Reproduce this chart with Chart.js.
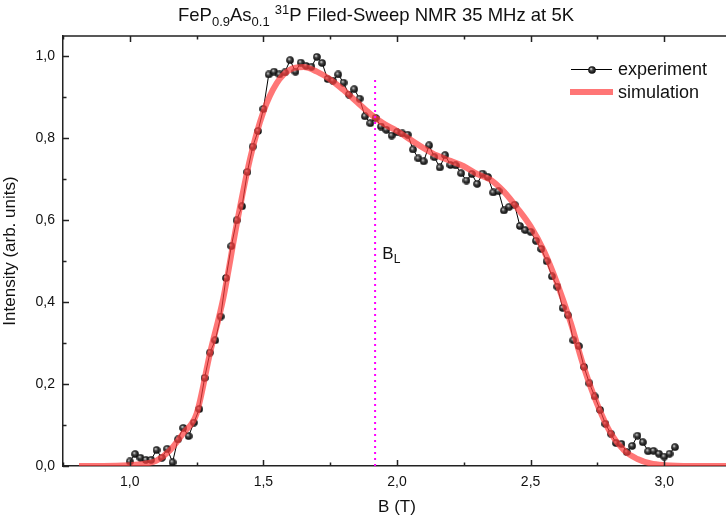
<!DOCTYPE html>
<html>
<head>
<meta charset="utf-8">
<script src="https://cdn.jsdelivr.net/npm/chart.js@4.4.0/dist/chart.umd.min.js"></script>
<style>
  html, body { margin: 0; padding: 0; background: #fff; overflow: hidden; }
  #wrap { width: 726px; height: 520px; overflow: hidden; }
</style>
</head>
<body>
<div id="wrap"><canvas id="nmrChart" width="736" height="520"></canvas></div>
<script>
// measured field-sweep spectrum (B in tesla)
const fieldExp = [
  1.00, 1.02, 1.04, 1.06, 1.08, 1.10, 1.12, 1.14, 1.16, 1.18,
  1.20, 1.22, 1.24, 1.26, 1.28, 1.30, 1.32, 1.34, 1.36, 1.38,
  1.40, 1.42, 1.44, 1.46, 1.48, 1.50, 1.52, 1.54, 1.56, 1.58,
  1.60, 1.62, 1.64, 1.66, 1.68, 1.70, 1.72, 1.74, 1.76, 1.78,
  1.80, 1.82, 1.84, 1.86, 1.88, 1.90, 1.92, 1.94, 1.96, 1.98,
  2.00, 2.02, 2.04, 2.06, 2.08, 2.10, 2.12, 2.14, 2.16, 2.18,
  2.20, 2.22, 2.24, 2.26, 2.28, 2.30, 2.32, 2.34, 2.36, 2.38,
  2.40, 2.42, 2.44, 2.46, 2.48, 2.50, 2.52, 2.54, 2.56, 2.58,
  2.60, 2.62, 2.64, 2.66, 2.68, 2.70, 2.72, 2.74, 2.76, 2.78,
  2.80, 2.82, 2.84, 2.86, 2.88, 2.90, 2.92, 2.94, 2.96, 2.98,
  3.00, 3.02, 3.04
];
const intensityExp = [
  0.011, 0.029, 0.020, 0.015, 0.015, 0.039, 0.020, 0.042, 0.009, 0.065,
  0.093, 0.073, 0.106, 0.139, 0.215, 0.277, 0.307, 0.365, 0.459, 0.537,
  0.600, 0.634, 0.718, 0.780, 0.818, 0.872, 0.956, 0.963, 0.956, 0.961,
  0.991, 0.963, 0.985, 0.977, 0.975, 0.999, 0.984, 0.945, 0.941, 0.956,
  0.936, 0.907, 0.920, 0.897, 0.854, 0.837, 0.850, 0.829, 0.821, 0.807,
  0.815, 0.812, 0.809, 0.773, 0.751, 0.744, 0.783, 0.754, 0.729, 0.759,
  0.735, 0.734, 0.715, 0.697, 0.713, 0.689, 0.714, 0.706, 0.668, 0.671,
  0.624, 0.633, 0.638, 0.586, 0.576, 0.572, 0.550, 0.530, 0.500, 0.463,
  0.438, 0.386, 0.368, 0.307, 0.293, 0.242, 0.202, 0.170, 0.137, 0.103,
  0.079, 0.056, 0.054, 0.034, 0.049, 0.074, 0.058, 0.036, 0.037, 0.030,
  0.023, 0.030, 0.046
];

// simulated lineshape
const fieldSim = [
  0.81, 0.90, 1.00, 1.05, 1.10, 1.15, 1.20, 1.25, 1.30, 1.35,
  1.40, 1.45, 1.50, 1.55, 1.60, 1.65, 1.70, 1.75, 1.80, 1.85,
  1.90, 1.95, 2.00, 2.05, 2.10, 2.15, 2.20, 2.25, 2.30, 2.35,
  2.40, 2.45, 2.50, 2.55, 2.60, 2.65, 2.70, 2.75, 2.80, 2.85,
  2.90, 2.95, 3.00, 3.10, 3.25
];
const intensitySim = [
  0, 0, 0.002, 0.005, 0.013, 0.038, 0.080, 0.128, 0.275, 0.410,
  0.590, 0.750, 0.865, 0.935, 0.968, 0.974, 0.963, 0.944, 0.918, 0.889,
  0.860, 0.836, 0.818, 0.797, 0.776, 0.758, 0.745, 0.732, 0.713, 0.699,
  0.670, 0.630, 0.585, 0.525, 0.445, 0.350, 0.240, 0.150, 0.080, 0.038,
  0.017, 0.006, 0.002, 0, 0
];

// Larmor field marker
const larmorField = 1.918;
const larmorTop = 0.945;

const fieldTicks = [1.0, 1.5, 2.0, 2.5, 3.0];
const fieldMinorTicks = [0.75, 1.25, 1.75, 2.25, 2.75, 3.25];
const intensityTicks = [0, 0.2, 0.4, 0.6, 0.8, 1.0];
const intensityMinorTicks = [0.1, 0.3, 0.5, 0.7, 0.9];

const FONT = '"Liberation Sans", Arial, sans-serif';
const simColor = 'rgba(255, 60, 60, 0.7)';
const axisColor = '#222';

// shaded ball marker
const ball = document.createElement('canvas');
ball.width = 8; ball.height = 8;
(function () {
  const c = ball.getContext('2d');
  const g = c.createRadialGradient(3, 2.8, 0.3, 4, 4, 4);
  g.addColorStop(0, '#d8d8d8');
  g.addColorStop(0.35, '#444');
  g.addColorStop(1, '#000');
  c.fillStyle = g;
  c.beginPath();
  c.arc(4, 4, 3.8, 0, Math.PI * 2);
  c.fill();
})();

const fmt = v => v.toFixed(1).replace('.', ',');

function drawRich(ctx, parts, x, y) {
  // parts: [text, size, dy]
  let w = 0;
  parts.forEach(p => { ctx.font = p[1] + 'px ' + FONT; w += ctx.measureText(p[0]).width; });
  let cx = x - w / 2;
  ctx.textAlign = 'left';
  ctx.textBaseline = 'alphabetic';
  parts.forEach(p => {
    ctx.font = p[1] + 'px ' + FONT;
    ctx.fillText(p[0], cx, y + p[2]);
    cx += ctx.measureText(p[0]).width;
  });
}

const decorations = {
  id: 'decorations',
  afterDraw(chart) {
    const ctx = chart.ctx;
    const a = chart.chartArea;
    const xs = chart.scales.x, ys = chart.scales.y;
    ctx.save();
    ctx.strokeStyle = axisColor;
    ctx.lineWidth = 1.5;
    // top and right frame lines
    ctx.beginPath();
    ctx.moveTo(a.left, a.top);
    ctx.lineTo(a.right, a.top);
    ctx.lineTo(a.right, a.bottom);
    ctx.stroke();
    // inward ticks
    ctx.beginPath();
    const tickX = (v, len) => {
      const px = Math.round(xs.getPixelForValue(v)) + 0.5;
      ctx.moveTo(px, a.bottom); ctx.lineTo(px, a.bottom - len);
      ctx.moveTo(px, a.top); ctx.lineTo(px, a.top + len);
    };
    const tickY = (v, len) => {
      const py = Math.round(ys.getPixelForValue(v)) + 0.5;
      ctx.moveTo(a.left, py); ctx.lineTo(a.left + len, py);
    };
    fieldTicks.forEach(v => tickX(v, 6));
    fieldMinorTicks.forEach(v => tickX(v, 3.5));
    intensityTicks.forEach(v => tickY(v, 6));
    intensityMinorTicks.forEach(v => tickY(v, 3.5));
    ctx.stroke();

    ctx.fillStyle = '#111';
    // title with sub/superscripts
    drawRich(ctx, [
      ['FeP', 18.5, 0], ['0.9', 13, 5], ['As', 18.5, 0], ['0.1', 13, 5],
      [' ', 18.5, 0], ['31', 13, -7], ['P Filed-Sweep NMR 35 MHz at 5K', 18.5, 0]
    ], 376, 21);

    // B_L label
    const bx = xs.getPixelForValue(1.945);
    const by = ys.getPixelForValue(0.505);
    ctx.textAlign = 'left';
    ctx.font = '17px ' + FONT;
    ctx.fillText('B', bx, by);
    const bw = ctx.measureText('B').width;
    ctx.font = '12px ' + FONT;
    ctx.fillText('L', bx + bw, by + 4);

    // legend
    ctx.strokeStyle = '#000';
    ctx.lineWidth = 1;
    ctx.beginPath();
    ctx.moveTo(571, 69.5); ctx.lineTo(612, 69.5);
    ctx.stroke();
    ctx.drawImage(ball, 588, 66);
    ctx.strokeStyle = simColor;
    ctx.lineWidth = 6;
    ctx.beginPath();
    ctx.moveTo(570, 92); ctx.lineTo(613, 92);
    ctx.stroke();
    ctx.fillStyle = '#111';
    ctx.font = '18px ' + FONT;
    ctx.textBaseline = 'middle';
    ctx.fillText('experiment', 618, 70);
    ctx.fillText('simulation', 618, 93);
    ctx.restore();
  }
};

new Chart(document.getElementById('nmrChart'), {
  type: 'line',
  data: {
    datasets: [
      {
        label: 'B_L',
        data: [{ x: larmorField, y: 0 }, { x: larmorField, y: larmorTop }],
        borderColor: '#ff00ff',
        borderWidth: 2,
        borderDash: [2, 4],
        pointRadius: 0,
        order: 0
      },
      {
        label: 'simulation',
        data: fieldSim.map((b, i) => ({ x: b, y: intensitySim[i] })),
        borderColor: simColor,
        borderWidth: 6,
        cubicInterpolationMode: 'monotone',
        pointRadius: 0,
        order: 1
      },
      {
        label: 'experiment',
        data: fieldExp.map((b, i) => ({ x: b, y: intensityExp[i] })),
        borderColor: '#000',
        borderWidth: 1,
        tension: 0,
        pointStyle: ball,
        pointRadius: 4,
        order: 2
      }
    ]
  },
  options: {
    responsive: false,
    animation: false,
    layout: { padding: { top: 36, right: 1, left: 0, bottom: 0 } },
    plugins: {
      legend: { display: false },
      tooltip: { enabled: false },
      title: { display: false }
    },
    scales: {
      x: {
        type: 'linear',
        min: 0.75,
        max: 3.25,
        afterFit: s => { s.height = 54; },
        afterBuildTicks: s => { s.ticks = fieldTicks.map(v => ({ value: v })); },
        ticks: {
          callback: v => fmt(v),
          font: { family: FONT, size: 14 },
          color: '#111',
          padding: 8,
          maxRotation: 0,
          autoSkip: false
        },
        grid: { display: false, drawTicks: false },
        border: { display: true, color: axisColor, width: 1.5 },
        title: {
          display: true,
          text: 'B (T)',
          font: { family: FONT, size: 17 },
          color: '#111',
          padding: { top: 0, bottom: 2 }
        }
      },
      y: {
        min: 0,
        max: 1.05,
        afterFit: s => { s.width = 63; },
        afterBuildTicks: s => { s.ticks = intensityTicks.map(v => ({ value: v })); },
        ticks: {
          callback: v => fmt(v),
          font: { family: FONT, size: 14 },
          color: '#111',
          padding: 8
        },
        grid: { display: false, drawTicks: false },
        border: { display: true, color: axisColor, width: 1.5 },
        title: {
          display: true,
          text: 'Intensity (arb. units)',
          font: { family: FONT, size: 17 },
          color: '#111',
          padding: { top: 0, bottom: 8 }
        }
      }
    }
  },
  plugins: [decorations]
});
</script>
</body>
</html>
